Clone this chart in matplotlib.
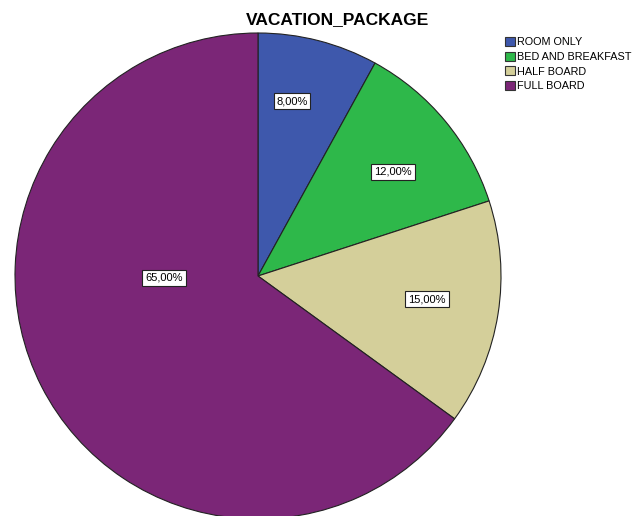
import matplotlib.pyplot as plt
import matplotlib.patches as mpatches

plt.rcParams['font.family'] = ['Liberation Sans', 'DejaVu Sans']

categories = ['ROOM ONLY', 'BED AND BREAKFAST', 'HALF BOARD', 'FULL BOARD']
percents = [8.0, 12.0, 15.0, 65.0]
colors = ['#3e58ac', '#2eb84a', '#d4cf9a', '#7b2677']
# label positions (pixels from the pie centre), as SPSS places them
label_offsets = [(34, 175), (135, 104), (169, -23), (-94, -2)]

fig = plt.figure(figsize=(6.35, 5.16), dpi=100)
ax = fig.add_axes([0, 0, 1, 1])

cx, cy, r = 258, -276, 243
wedges, _ = ax.pie(percents, colors=colors, startangle=90, counterclock=False,
                   center=(cx, cy), radius=r, frame=True,
                   wedgeprops=dict(edgecolor='#222222', linewidth=0.8))
ax.set_xlim(0, 635)
ax.set_ylim(-516, 0)
ax.set_aspect('equal')
ax.axis('off')

for p, (dx, dy) in zip(percents, label_offsets):
    ax.text(cx + dx, cy + dy, ('%.2f%%' % p).replace('.', ','), fontsize=8,
            ha='center', va='center',
            bbox=dict(boxstyle='square,pad=0.25', facecolor='white',
                      edgecolor='#222222', linewidth=0.8))

fig.text(338 / 635, 1 - 20 / 516, 'VACATION_PACKAGE', ha='center', va='center',
         fontsize=12.5, fontweight='bold', color='black')

handles = [mpatches.Patch(facecolor=c, edgecolor='#333333', linewidth=0.8)
           for c in colors]
fig.legend(handles, categories, loc='upper left',
           bbox_to_anchor=(503 / 635, 1 - 35 / 516), frameon=False,
           fontsize=7.8, handlelength=0.9, handleheight=0.9,
           handletextpad=0.2, labelspacing=0.4, borderpad=0.2,
           borderaxespad=0)

fig.savefig('out.png', dpi=100)
